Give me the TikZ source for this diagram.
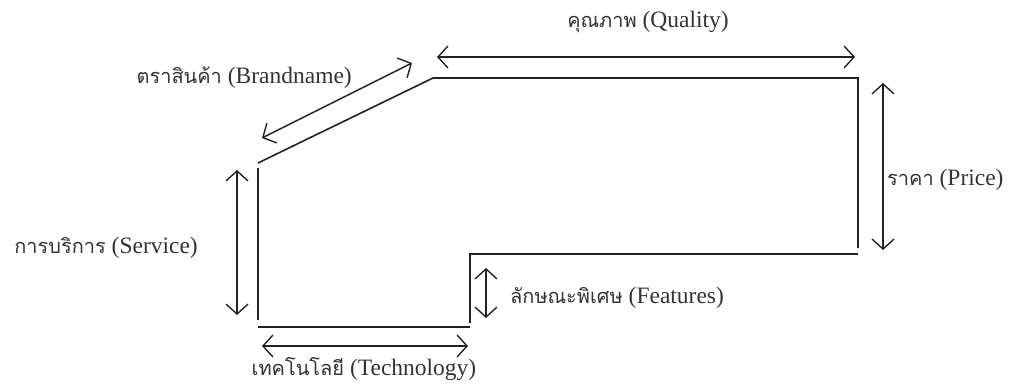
\documentclass[tikz,border=0pt]{standalone}
\usepackage{fontspec}
\setmainfont{Liberation Serif}
\newfontfamily\thaifont[Script=Thai,Scale=0.85]{Loma}
\usetikzlibrary{arrows.meta}
\newcommand{\thtext}[1]{{\thaifont #1}}
\definecolor{ink}{HTML}{222222}
\definecolor{txt}{HTML}{333333}
\tikzset{
  outline/.style={draw=ink, line width=1.6pt},
  dim/.style={draw=ink, line width=1.4pt, {Straight Barb[length=10pt,width=22pt]}-{Straight Barb[length=10pt,width=22pt]}},
  lbl/.style={text=txt, font=\fontsize{23.5}{26}\selectfont, inner sep=0pt}
}
\begin{document}
\begin{tikzpicture}[x=1pt,y=-1pt]
\useasboundingbox (0,0) rectangle (1011,385);
% outline corners
\coordinate (d1) at (258,163);
\coordinate (d2) at (433,78);
\coordinate (t2) at (858,78);
\coordinate (r2) at (858,248);
\coordinate (m1) at (858,254);
\coordinate (m2) at (470,254);
\coordinate (f2) at (470,323);
\coordinate (b1) at (470,327);
\coordinate (b2) at (258,327);
\coordinate (l1) at (258,320);
\coordinate (l2) at (258,168);
\draw[outline] (d1) -- (d2) -- (t2) -- (r2);
\draw[outline] (m1) -- (m2) -- (f2);
\draw[outline] (b1) -- (b2);
\draw[outline] (l1) -- (l2);
% arrow endpoints
\coordinate (qa) at (437,57);  \coordinate (qb) at (855,57);
\coordinate (ba) at (262,138); \coordinate (bb) at (412,63);
\coordinate (pa) at (883,83);  \coordinate (pb) at (883,250);
\coordinate (sa) at (237,170); \coordinate (sb) at (237,315);
\coordinate (fa) at (486,268); \coordinate (fb) at (486,318);
\coordinate (ta) at (262,346); \coordinate (tb) at (468,346);
\draw[dim] (qa) -- (qb);
\draw[dim] (ba) -- (bb);
\draw[dim] (pa) -- (pb);
\draw[dim] (sa) -- (sb);
\draw[dim] (fa) -- (fb);
\draw[dim] (ta) -- (tb);
% labels
\node[lbl] (lq) at (648,22) {\thtext{คุณภาพ} (Quality)};
\node[lbl, anchor=east] (lb) at (352,78) {\thtext{ตราสินค้า} (Brandname)};
\node[lbl, anchor=west] (lp) at (887,180) {\thtext{ราคา} (Price)};
\node[lbl, anchor=east] (ls) at (198,248) {\thtext{การบริการ} (Service)};
\node[lbl, anchor=west] (lf) at (510,298) {\thtext{ลักษณะพิเศษ} (Features)};
\node[lbl] (lt) at (364,369) {\thtext{เทคโนโลยี} (Technology)};
\end{tikzpicture}
\end{document}
